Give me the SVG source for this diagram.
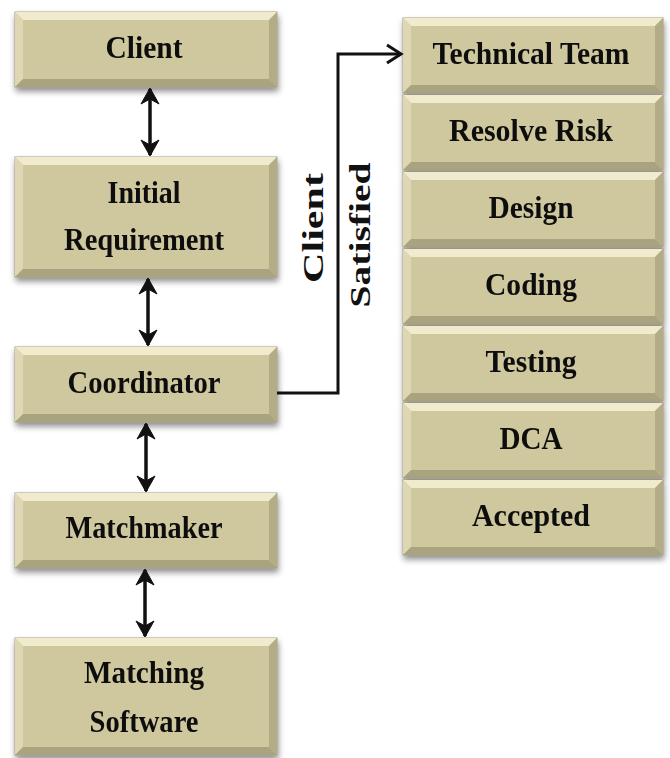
<svg xmlns="http://www.w3.org/2000/svg" width="670" height="758" viewBox="0 0 670 758">
<style>
.base{fill:#cfc89e;stroke:#8f8a6b;stroke-width:0.8}
.bt{fill:#efebcc}
.bl{fill:#ddd7b3}
.br{fill:#b3ac87}
.bb{fill:#aaa37f}
.lbl{font-family:"Liberation Serif","Times New Roman",serif;font-weight:bold;font-size:32px;fill:#111;text-anchor:middle}
.conn{fill:none;stroke:#111;stroke-width:3.5}
</style>
<defs>
<filter id="sh" x="-10%" y="-10%" width="120%" height="130%">
<feDropShadow dx="1" dy="4" stdDeviation="3" flood-color="#000" flood-opacity="0.45"/>
</filter>
<marker id="dbl" markerUnits="userSpaceOnUse" markerWidth="18" markerHeight="20" refX="16" refY="10" orient="auto-start-reverse" viewBox="0 0 18 20">
<path d="M1,1 L17,10 L1,19 L6,10 z" fill="#111" stroke="#111" stroke-width="1" stroke-linejoin="round"/>
</marker>
<marker id="open" markerUnits="userSpaceOnUse" markerWidth="20" markerHeight="24" refX="17" refY="12" orient="auto" viewBox="0 0 20 24">
<path d="M3,3 L17,12 L3,21" fill="none" stroke="#111" stroke-width="3"/>
</marker>
</defs>
<rect width="670" height="758" fill="#fff"/>

<g id="client" filter="url(#sh)">
<rect class="base" x="15" y="12" width="262" height="75"/>
<polygon class="bt" points="15,12 277,12 269,20 23,20"/>
<polygon class="bl" points="15,12 23,20 23,79 15,87"/>
<polygon class="br" points="277,12 277,87 269,79 269,20"/>
<polygon class="bb" points="15,87 277,87 269,79 23,79"/>
<text class="lbl" x="144" y="58" textLength="77" lengthAdjust="spacingAndGlyphs">Client</text>
</g>

<g id="initial-requirement" filter="url(#sh)">
<rect class="base" x="15" y="157" width="262" height="120"/>
<polygon class="bt" points="15,157 277,157 269,165 23,165"/>
<polygon class="bl" points="15,157 23,165 23,269 15,277"/>
<polygon class="br" points="277,157 277,277 269,269 269,165"/>
<polygon class="bb" points="15,277 277,277 269,269 23,269"/>
<text class="lbl" x="144" y="203" textLength="73" lengthAdjust="spacingAndGlyphs">Initial</text>
<text class="lbl" x="144" y="250" textLength="160" lengthAdjust="spacingAndGlyphs">Requirement</text>
</g>

<g id="coordinator" filter="url(#sh)">
<rect class="base" x="15" y="347" width="262" height="75"/>
<polygon class="bt" points="15,347 277,347 269,355 23,355"/>
<polygon class="bl" points="15,347 23,355 23,414 15,422"/>
<polygon class="br" points="277,347 277,422 269,414 269,355"/>
<polygon class="bb" points="15,422 277,422 269,414 23,414"/>
<text class="lbl" x="144" y="393" textLength="153" lengthAdjust="spacingAndGlyphs">Coordinator</text>
</g>

<g id="matchmaker" filter="url(#sh)">
<rect class="base" x="15" y="493" width="262" height="75"/>
<polygon class="bt" points="15,493 277,493 269,501 23,501"/>
<polygon class="bl" points="15,493 23,501 23,560 15,568"/>
<polygon class="br" points="277,493 277,568 269,560 269,501"/>
<polygon class="bb" points="15,568 277,568 269,560 23,560"/>
<text class="lbl" x="144" y="538" textLength="157" lengthAdjust="spacingAndGlyphs">Matchmaker</text>
</g>

<g id="matching-software" filter="url(#sh)">
<rect class="base" x="15" y="638" width="262" height="117"/>
<polygon class="bt" points="15,638 277,638 269,646 23,646"/>
<polygon class="bl" points="15,638 23,646 23,747 15,755"/>
<polygon class="br" points="277,638 277,755 269,747 269,646"/>
<polygon class="bb" points="15,755 277,755 269,747 23,747"/>
<text class="lbl" x="144" y="683" textLength="120" lengthAdjust="spacingAndGlyphs">Matching</text>
<text class="lbl" x="144" y="732" textLength="109" lengthAdjust="spacingAndGlyphs">Software</text>
</g>

<g id="technical-team" filter="url(#sh)">
<rect class="base" x="403" y="18" width="260" height="75"/>
<polygon class="bt" points="403,18 663,18 655,26 411,26"/>
<polygon class="bl" points="403,18 411,26 411,85 403,93"/>
<polygon class="br" points="663,18 663,93 655,85 655,26"/>
<polygon class="bb" points="403,93 663,93 655,85 411,85"/>
<text class="lbl" x="531" y="64" textLength="197" lengthAdjust="spacingAndGlyphs">Technical Team</text>
</g>

<g id="resolve-risk" filter="url(#sh)">
<rect class="base" x="403" y="95" width="260" height="75"/>
<polygon class="bt" points="403,95 663,95 655,103 411,103"/>
<polygon class="bl" points="403,95 411,103 411,162 403,170"/>
<polygon class="br" points="663,95 663,170 655,162 655,103"/>
<polygon class="bb" points="403,170 663,170 655,162 411,162"/>
<text class="lbl" x="531" y="141" textLength="164" lengthAdjust="spacingAndGlyphs">Resolve Risk</text>
</g>

<g id="design" filter="url(#sh)">
<rect class="base" x="403" y="172" width="260" height="75"/>
<polygon class="bt" points="403,172 663,172 655,180 411,180"/>
<polygon class="bl" points="403,172 411,180 411,239 403,247"/>
<polygon class="br" points="663,172 663,247 655,239 655,180"/>
<polygon class="bb" points="403,247 663,247 655,239 411,239"/>
<text class="lbl" x="531" y="218" textLength="85" lengthAdjust="spacingAndGlyphs">Design</text>
</g>

<g id="coding" filter="url(#sh)">
<rect class="base" x="403" y="249" width="260" height="75"/>
<polygon class="bt" points="403,249 663,249 655,257 411,257"/>
<polygon class="bl" points="403,249 411,257 411,316 403,324"/>
<polygon class="br" points="663,249 663,324 655,316 655,257"/>
<polygon class="bb" points="403,324 663,324 655,316 411,316"/>
<text class="lbl" x="531" y="295" textLength="92" lengthAdjust="spacingAndGlyphs">Coding</text>
</g>

<g id="testing" filter="url(#sh)">
<rect class="base" x="403" y="326" width="260" height="75"/>
<polygon class="bt" points="403,326 663,326 655,334 411,334"/>
<polygon class="bl" points="403,326 411,334 411,393 403,401"/>
<polygon class="br" points="663,326 663,401 655,393 655,334"/>
<polygon class="bb" points="403,401 663,401 655,393 411,393"/>
<text class="lbl" x="531" y="372" textLength="91" lengthAdjust="spacingAndGlyphs">Testing</text>
</g>

<g id="dca" filter="url(#sh)">
<rect class="base" x="403" y="403" width="260" height="75"/>
<polygon class="bt" points="403,403 663,403 655,411 411,411"/>
<polygon class="bl" points="403,403 411,411 411,470 403,478"/>
<polygon class="br" points="663,403 663,478 655,470 655,411"/>
<polygon class="bb" points="403,478 663,478 655,470 411,470"/>
<text class="lbl" x="531" y="449" textLength="63" lengthAdjust="spacingAndGlyphs">DCA</text>
</g>

<g id="accepted" filter="url(#sh)">
<rect class="base" x="403" y="480" width="260" height="75"/>
<polygon class="bt" points="403,480 663,480 655,488 411,488"/>
<polygon class="bl" points="403,480 411,488 411,547 403,555"/>
<polygon class="br" points="663,480 663,555 655,547 655,488"/>
<polygon class="bb" points="403,555 663,555 655,547 411,547"/>
<text class="lbl" x="531" y="526" textLength="118" lengthAdjust="spacingAndGlyphs">Accepted</text>
</g>

<g id="connectors">
<line class="conn" x1="150" y1="89" x2="150" y2="155" marker-start="url(#dbl)" marker-end="url(#dbl)"/>
<line class="conn" x1="148" y1="279" x2="148" y2="345" marker-start="url(#dbl)" marker-end="url(#dbl)"/>
<line class="conn" x1="146" y1="424" x2="146" y2="491" marker-start="url(#dbl)" marker-end="url(#dbl)"/>
<line class="conn" x1="145" y1="570" x2="145" y2="636" marker-start="url(#dbl)" marker-end="url(#dbl)"/>
<path class="conn" d="M277,393 H338 V54 H401" marker-end="url(#open)" style="stroke-width:3"/>
<text class="lbl" transform="translate(323,228) rotate(-90)" x="0" y="0" textLength="110" lengthAdjust="spacingAndGlyphs" style="font-size:30px">Client</text>
<text class="lbl" transform="translate(370,235) rotate(-90)" x="0" y="0" textLength="145" lengthAdjust="spacingAndGlyphs" style="font-size:30px">Satisfied</text>
</g>
</svg>
